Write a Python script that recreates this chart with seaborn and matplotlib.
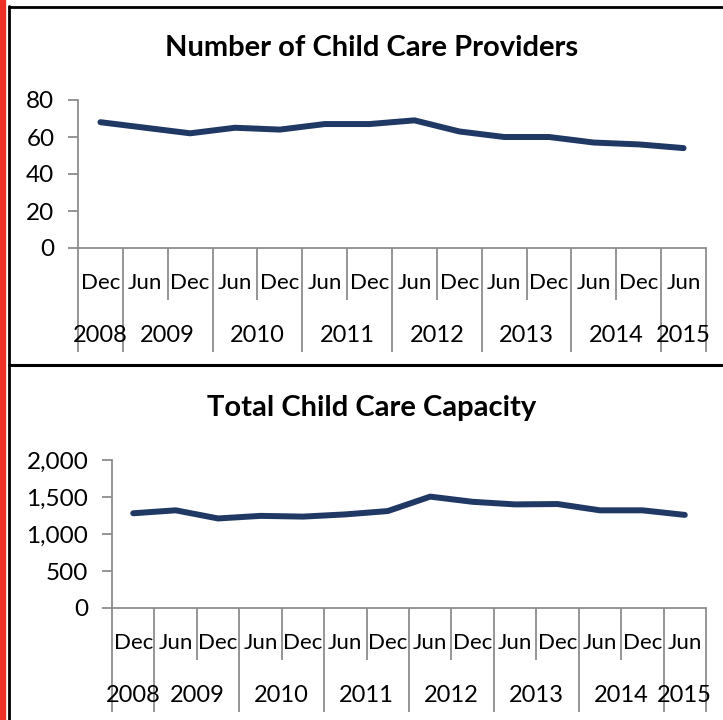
"""
Two-panel line chart: child care providers and capacity, Dec 2008 - Jun 2015.
"""
import numpy as np
import pandas as pd
import matplotlib.pyplot as plt
import seaborn as sns
from matplotlib.lines import Line2D
from matplotlib.patches import Rectangle
from matplotlib.ticker import FuncFormatter
from matplotlib.transforms import blended_transform_factory

# Datos
meses = ['Dec', 'Jun', 'Dec', 'Jun', 'Dec', 'Jun', 'Dec',
         'Jun', 'Dec', 'Jun', 'Dec', 'Jun', 'Dec', 'Jun']
anios = ['2008', '2009', '2010', '2011', '2012', '2013', '2014', '2015']
meses_por_anio = [1, 2, 2, 2, 2, 2, 2, 1]
proveedores = [68, 65, 62, 65, 64, 67, 67, 69, 63, 60, 60, 57, 56, 54]
capacidad = [1280, 1320, 1210, 1245, 1235, 1265, 1310, 1505,
             1435, 1400, 1405, 1320, 1320, 1258]

sns.set_theme(style='white')
plt.rcParams['font.family'] = ['Lato', 'DejaVu Sans']
plt.rcParams['text.color'] = 'black'

COLOR_LINEA = '#1F3864'
GRIS = '#8C8C8C'

fig = plt.figure(figsize=(7.23, 7.20), dpi=100)
W, H = 723, 720


def px(x0, y0, x1, y1):
    """Convierte una caja en pixeles (origen arriba-izquierda) a coords de figura."""
    return [x0 / W, 1 - y1 / H, (x1 - x0) / W, (y1 - y0) / H]


def panel(rect, valores, titulo, titulo_y, yticks, fmt):
    ax = fig.add_axes(rect)
    df = pd.DataFrame({'i': np.arange(len(valores)), 'v': valores})
    sns.lineplot(data=df, x='i', y='v', ax=ax, color=COLOR_LINEA,
                 linewidth=4.3, solid_capstyle='round', solid_joinstyle='round')
    ax.set_xlim(-0.5, len(valores) - 0.5)
    ax.set_ylim(yticks[0], yticks[-1])
    ax.set_yticks(yticks)
    ax.yaxis.set_major_formatter(FuncFormatter(fmt))
    ax.set_xticks([])
    ax.set_xlabel('')
    ax.set_ylabel('')
    for s in ['top', 'right']:
        ax.spines[s].set_visible(False)
    for s in ['left', 'bottom']:
        ax.spines[s].set_color(GRIS)
        ax.spines[s].set_linewidth(1.3)
    ax.tick_params(axis='y', left=True, length=7, width=1.3, color=GRIS,
                   pad=10, labelsize=17.5, labelcolor='black')

    trans = blended_transform_factory(ax.transData, ax.transAxes)
    # limites de categorias: largos en cambio de año, cortos dentro del año
    limites_anio = np.concatenate([[0], np.cumsum(meses_por_anio)]) - 0.5
    todos = np.arange(len(valores) + 1) - 0.5
    cortos = [b for b in todos if b not in limites_anio]
    ax.vlines(limites_anio, -0.703, 0, transform=trans, colors=GRIS,
              linewidth=1.3, clip_on=False)
    ax.vlines(cortos, -0.351, 0, transform=trans, colors=GRIS,
              linewidth=1.3, clip_on=False)
    for i, m in enumerate(meses):
        ax.text(i, -0.236, m, transform=trans, ha='center', va='center',
                fontsize=16)
    centros = (limites_anio[:-1] + limites_anio[1:]) / 2
    for c, a in zip(centros, anios):
        ax.text(c, -0.588, a, transform=trans, ha='center', va='center',
                fontsize=17)

    fig.text(372 / W, 1 - titulo_y / H, titulo, ha='center', va='center',
             fontsize=21, fontweight='bold', color='black')
    return ax


panel(px(78, 100, 706, 248), proveedores, 'Number of Child Care Providers', 48,
      [0, 20, 40, 60, 80], lambda v, p: f'{v:.0f}')
panel(px(112, 460, 706, 608), capacidad, 'Total Child Care Capacity', 408,
      [0, 500, 1000, 1500, 2000], lambda v, p: f'{v:,.0f}')

# Marco: franja roja y bordes negros de los paneles
fig.add_artist(Rectangle((0, 0), 5 / W, 1, transform=fig.transFigure,
                         color='#EE3124', zorder=0))
fig.add_artist(Line2D([9 / W, 9 / W], [0, 1 - 6 / H], transform=fig.transFigure,
                      color='black', linewidth=2))
fig.add_artist(Line2D([9 / W, 1], [1 - 7 / H, 1 - 7 / H], transform=fig.transFigure,
                      color='black', linewidth=2))
fig.add_artist(Line2D([9 / W, 1], [1 - 364.5 / H, 1 - 364.5 / H],
                      transform=fig.transFigure, color='black', linewidth=2.2))

fig.savefig('out.png', dpi=100)
